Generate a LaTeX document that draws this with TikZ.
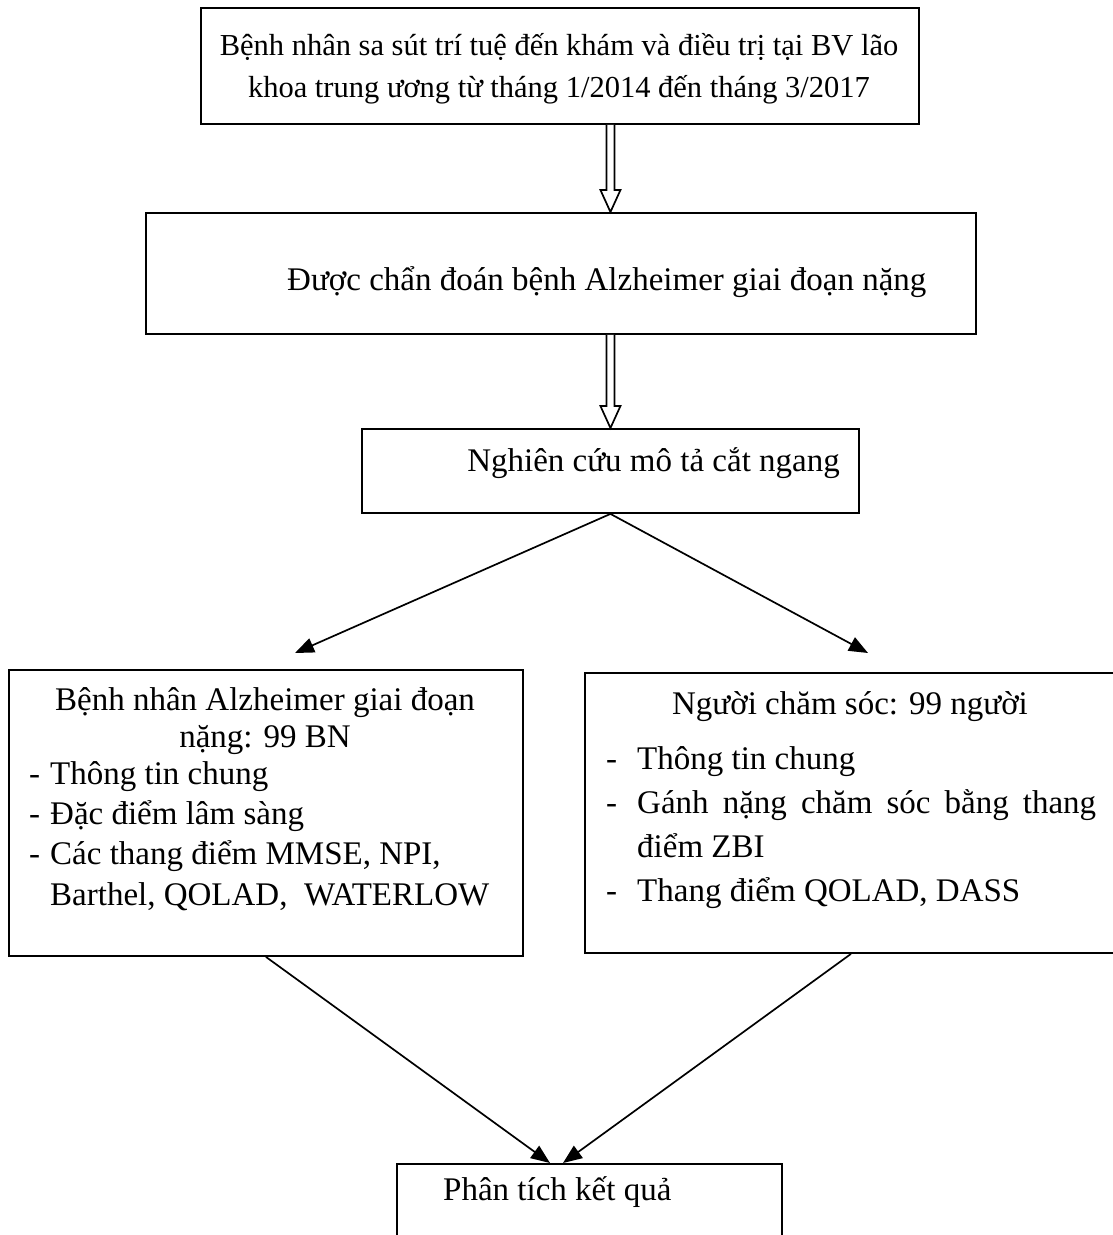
\documentclass[tikz,border=0pt]{standalone}
\usepackage{fontspec}
\setmainfont{Liberation Serif}
\usetikzlibrary{arrows.meta,calc}

\newcommand{\dashitem}[1]{\makebox[#1][l]{-}}

\tikzset{
  box/.style={draw, line width=1.9pt, inner sep=0pt, anchor=north west},
  txt/.style={inner sep=0pt, font=\fontsize{33}{42}\selectfont},
  line/.style={line width=1.7pt, -{Triangle[length=19pt,width=15pt]}},
  dblarrow/.style={line width=1.7pt, fill=white,
    to path={let \p1=(\tikztostart), \p2=(\tikztotarget) in
      (\x1-4pt,\y1) -- (\x1-4pt,\y2+22pt) -- (\x1-10pt,\y2+22pt) -- (\x2,\y2)
      -- (\x1+10pt,\y2+22pt) -- (\x1+4pt,\y2+22pt) -- (\x1+4pt,\y1)}}
}

\begin{document}
\begin{tikzpicture}[x=1pt, y=-1pt]
  \useasboundingbox (0,0) rectangle (1113,1235);
  \clip (0,0) rectangle (1113,1235);
  % boxes
  \node[box, minimum width=718pt, minimum height=116pt] (b1) at (200,7) {};
  \node[box, minimum width=830pt, minimum height=121pt] (b2) at (145,212) {};
  \node[box, minimum width=497pt, minimum height=84pt] (b3) at (361,428) {};
  \node[box, minimum width=514pt, minimum height=286pt] (lb) at (8,669) {};
  \node[box, minimum width=532pt, minimum height=280pt] (rb) at (584,672) {};
  \node[box, minimum width=385pt, minimum height=120pt] (bb) at (396,1163) {};
  % texts (base = last line)
  \node[txt, anchor=base, align=center, font=\fontsize{30.5}{42}\selectfont] (t1) at (559,97)
    {Bệnh nhân sa sút trí tuệ đến khám và điều trị tại BV lão\\khoa trung ương từ tháng 1/2014 đến tháng 3/2017};
  \node[txt, anchor=base west] (t2) at (287,290) {Được chẩn đoán bệnh Alzheimer giai đoạn nặng};
  \node[txt, anchor=base east] (t3) at (840,471) {Nghiên cứu mô tả cắt ngang};
  \node[txt, anchor=base, align=center, font=\fontsize{33}{37}\selectfont] (lt) at (265,747)
    {Bệnh nhân Alzheimer giai đoạn\\nặng: 99 BN};
  \node[txt, anchor=base west, align=left, font=\fontsize{33}{40.3}\selectfont] (ll) at (29,905)
    {\dashitem{21pt}Thông tin chung\\\dashitem{21pt}Đặc điểm lâm sàng\\\dashitem{21pt}Các thang điểm MMSE, NPI,\\\hspace*{21pt}Barthel, QOLAD,\ \ WATERLOW};
  \node[txt, anchor=base] (rt) at (850,714) {Người chăm sóc: 99 người};
  \node[txt, anchor=base west, align=left, font=\fontsize{33}{44}\selectfont] (rl) at (606,901)
    {\dashitem{31pt}Thông tin chung\\\dashitem{31pt}\makebox[459pt][s]{Gánh nặng chăm sóc bằng thang}\\\hspace*{31pt}điểm ZBI\\\dashitem{31pt}Thang điểm QOLAD, DASS};
  \node[txt, anchor=base west] (t6) at (443,1200) {Phân tích kết quả};
  % connectors
  \coordinate (a1) at (b1.south -| b3.north);
  \coordinate (a2) at (b2.north -| b3.north);
  \coordinate (a3) at (b2.south -| b3.north);
  \draw[dblarrow] (a1) to (a2);
  \draw[dblarrow] (a3) to (b3.north);
  \coordinate (ltip) at (295,653);
  \coordinate (rtip) at (868,653);
  \draw[line] (b3.south) -- (ltip);
  \draw[line] (b3.south) -- (rtip);
  \coordinate (bl) at (550,1163);
  \coordinate (br) at (563,1163);
  \draw[line] (lb.south) -- (bl);
  \draw[line] (rb.south) -- (br);
\end{tikzpicture}
\end{document}
